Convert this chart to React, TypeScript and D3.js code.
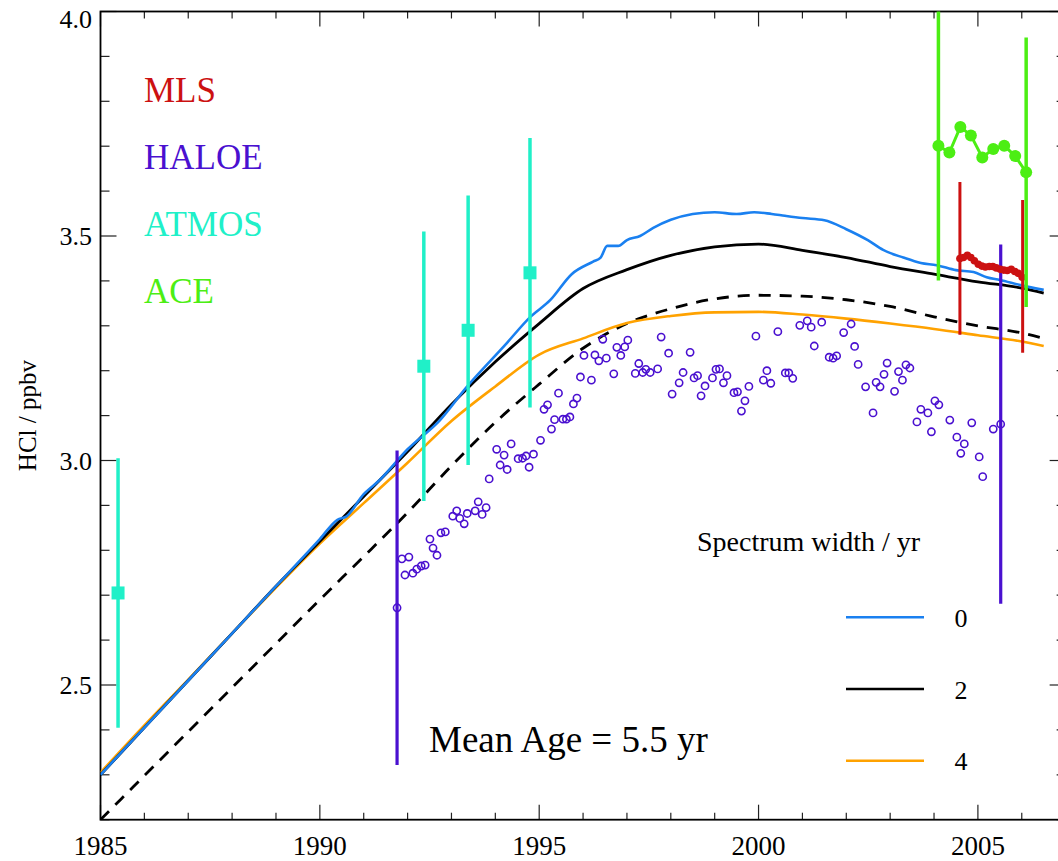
import React from 'react';
import * as d3 from 'd3';

// ---------- model curves (HCl, ppbv) ----------
const width2Years = [1985, 1986, 1987, 1988, 1989, 1990, 1991, 1992, 1993, 1994, 1995, 1996, 1997, 1998, 1999, 2000, 2001, 2002, 2003, 2004, 2005, 2006, 2006.5];
const width2Values = [2.30, 2.405, 2.51, 2.615, 2.72, 2.82, 2.92, 3.02, 3.125, 3.22, 3.305, 3.383, 3.425, 3.457, 3.476, 3.482, 3.468, 3.452, 3.432, 3.415, 3.398, 3.384, 3.373];

const width0Years = [1985, 1986, 1987, 1988, 1989, 1990, 1990.4, 1990.6, 1991, 1991.37, 1992, 1992.74, 1993.35, 1994.22, 1994.8, 1995.25, 1995.74, 1996.23, 1996.4, 1996.55, 1996.8, 1997.0, 1997.3, 1997.6, 1998.0, 1998.5, 1999.0, 1999.5, 1999.9, 2000.3, 2000.6, 2001.0, 2001.5, 2002.0, 2002.5, 2002.84, 2003.3, 2003.7, 2004.06, 2004.5, 2004.9, 2005.2, 2005.5, 2006.0, 2006.5];
const width0Values = [2.30, 2.405, 2.51, 2.615, 2.72, 2.825, 2.868, 2.875, 2.925, 2.957, 3.025, 3.09, 3.164, 3.257, 3.32, 3.357, 3.415, 3.443, 3.452, 3.478, 3.478, 3.491, 3.5, 3.518, 3.536, 3.549, 3.553, 3.549, 3.553, 3.549, 3.545, 3.54, 3.535, 3.515, 3.49, 3.469, 3.452, 3.44, 3.435, 3.424, 3.42, 3.408, 3.402, 3.39, 3.38];

const width4Years = [1985, 1986, 1987, 1988, 1989, 1990, 1991, 1992, 1993, 1994, 1995, 1996, 1997, 1998, 1999, 2000, 2001, 2002, 2003, 2004, 2005, 2006, 2006.5];
const width4Values = [2.305, 2.41, 2.512, 2.615, 2.717, 2.815, 2.905, 2.995, 3.088, 3.165, 3.236, 3.272, 3.306, 3.322, 3.33, 3.331, 3.325, 3.316, 3.305, 3.293, 3.279, 3.265, 3.255];

const dashedYears = [1985, 1986, 1987, 1988, 1989, 1990, 1991, 1992, 1993, 1994, 1995, 1996, 1997, 1998, 1999, 2000, 2001, 2002, 2003, 2004, 2005, 2006, 2006.5];
const dashedValues = [2.2, 2.298, 2.396, 2.494, 2.592, 2.69, 2.786, 2.884, 2.988, 3.085, 3.17, 3.25, 3.305, 3.338, 3.36, 3.368, 3.366, 3.358, 3.343, 3.32, 3.3, 3.284, 3.272];

// ---------- observations ----------
const haloeYears = [1991.76,1991.87,1991.94,1992.03,1992.12,1992.21,1992.31,1992.40,1992.51,1992.58,
  1992.67,1992.76,1992.86,1993.03,1993.12,1993.19,1993.29,1993.36,1993.54,1993.61,
  1993.70,1993.79,1993.86,1994.03,1994.11,1994.20,1994.27,1994.36,1994.52,1994.62,
  1994.70,1994.77,1994.87,1995.03,1995.11,1995.19,1995.28,1995.35,1995.44,1995.54,
  1995.62,1995.70,1995.78,1995.86,1995.94,1996.02,1996.19,1996.27,1996.36,1996.45,
  1996.53,1996.70,1996.77,1996.86,1996.95,1997.02,1997.19,1997.27,1997.36,1997.43,
  1997.53,1997.70,1997.78,1997.95,1998.03,1998.19,1998.28,1998.44,1998.53,1998.61,
  1998.69,1998.78,1998.95,1999.03,1999.11,1999.20,1999.28,1999.44,1999.52,1999.61,
  1999.69,1999.78,1999.94,2000.11,2000.19,2000.28,2000.44,2000.61,2000.69,2000.78,
  2000.94,2001.11,2001.20,2001.27,2001.44,2001.61,2001.70,2001.78,2001.94,2002.11,
  2002.19,2002.27,2002.44,2002.61,2002.68,2002.77,2002.86,2002.93,2003.10,2003.19,
  2003.28,2003.36,2003.45,2003.61,2003.70,2003.86,2003.94,2004.02,2004.11,2004.36,
  2004.52,2004.61,2004.69,2004.86,2005.03,2005.11,2005.35,2005.52];
const haloeValues = [2.672,2.781,2.745,2.785,2.749,2.758,2.765,2.767,2.825,2.805,
  2.789,2.839,2.841,2.876,2.888,2.871,2.859,2.882,2.888,2.908,
  2.880,2.895,2.959,3.025,2.990,3.012,2.980,3.037,3.004,3.005,
  3.010,2.985,3.014,3.045,3.114,3.124,3.070,3.091,3.150,3.092,
  3.092,3.097,3.126,3.139,3.186,3.234,3.179,3.235,3.222,3.270,
  3.228,3.193,3.252,3.234,3.253,3.268,3.194,3.216,3.196,3.203,
  3.196,3.204,3.275,3.239,3.148,3.173,3.196,3.241,3.184,3.189,
  3.144,3.166,3.184,3.203,3.204,3.173,3.189,3.151,3.153,3.110,
  3.133,3.165,3.277,3.179,3.200,3.172,3.287,3.195,3.195,3.183,
  3.301,3.311,3.297,3.255,3.308,3.230,3.228,3.233,3.285,3.304,
  3.254,3.214,3.164,3.106,3.174,3.164,3.192,3.217,3.154,3.198,
  3.179,3.213,3.206,3.086,3.114,3.106,3.064,3.133,3.124,3.090,
  3.052,3.016,3.037,3.084,3.008,2.964,3.070,3.081];
const haloeErrYears = [1991.76, 2005.52];
const haloeErrValues = [2.672, 3.081];
const haloeErrs = [0.35, 0.40];

const atmosYears = [1985.40, 1992.37, 1993.38, 1994.79];
const atmosValues = [2.705, 3.21, 3.29, 3.418];
const atmosErrs = [0.3, 0.3, 0.3, 0.3];

const mlsYears = [2004.59, 2004.67, 2004.76, 2004.84, 2004.92, 2005.01, 2005.09, 2005.17, 2005.26, 2005.34, 2005.42, 2005.51, 2005.59, 2005.67, 2005.76, 2005.84, 2005.92, 2006.01];
const mlsValues = [3.450, 3.452, 3.457, 3.452, 3.445, 3.437, 3.433, 3.431, 3.432, 3.432, 3.429, 3.426, 3.424, 3.423, 3.426, 3.421, 3.417, 3.408];
const mlsErrYears = [2004.59, 2006.02];
const mlsErrValues = [3.45, 3.41];
const mlsErrs = [0.17, 0.17];

const aceYears = [2004.10, 2004.35, 2004.60, 2004.84, 2005.10, 2005.35, 2005.60, 2005.85, 2006.10];
const aceValues = [3.701, 3.686, 3.743, 3.724, 3.675, 3.694, 3.701, 3.678, 3.642];
const aceErrYears = [2004.10, 2006.10];
const aceErrValues = [3.701, 3.642];
const aceErrs = [0.3, 0.3];

const xMajorTicks = [1985, 1990, 1995, 2000, 2005];
const yMajorTicks = [2.5, 3.0, 3.5, 4.0];
const yTickLabels = ['2.5', '3.0', '3.5', '4.0'];

const legendNames = ['MLS', 'HALOE', 'ATMOS', 'ACE'];
const widthLabels = ['0', '2', '4'];

const C = {
  mls: '#cc1111',
  haloe: '#4a10d0',
  atmos: '#20f0c8',
  ace: '#4cee14',
  blue: '#1a80f0',
  black: '#000000',
  orange: '#ffa200',
};

const FONT = "'Liberation Serif', 'Times New Roman', Times, serif";

export default function App() {
  const W = 1058, H = 861;
  const left = 100.5, top = 11.5, bottom = 819.7;
  const right = left + 22 * 43.87;
  const x = d3.scaleLinear().domain([1985, 2007]).range([left, right]);
  const y = d3.scaleLinear().domain([2.2, 4.0]).range([bottom, top]);

  const mk = (ys: number[], vs: number[], curve: any) =>
    d3.line<number>().x((_, i) => x(ys[i])).y((_, i) => y(vs[i])).curve(curve)(ys as any) as string;

  const pBlack = mk(width2Years, width2Values, d3.curveMonotoneX);
  const pBlue = mk(width0Years, width0Values, d3.curveMonotoneX);
  const pOrange = mk(width4Years, width4Values, d3.curveMonotoneX);
  const pDashed = mk(dashedYears, dashedValues, d3.curveMonotoneX);
  const pMls = mk(mlsYears, mlsValues, d3.curveLinear);
  const pAce = mk(aceYears, aceValues, d3.curveLinear);

  const xMinor = d3.range(1985, 2008, 1).filter((v) => !xMajorTicks.includes(v));
  const yMinor = d3.range(22, 41, 1).map((v) => v / 10).filter((v) => !yMajorTicks.some((m) => Math.abs(m - v) < 1e-6));

  const majX = 15, minX = 7, majY = 16, minY = 9;
  const tickColor = '#222';

  return (
    <svg width={W} height={H} style={{ position: 'absolute', left: 0, top: 0, background: '#fff' }} fontFamily={FONT}>
      <defs>
        <clipPath id="plot">
          <rect x={left} y={top} width={right - left} height={bottom - top} />
        </clipPath>
      </defs>
      <rect x={0} y={0} width={W} height={H} fill="#fff" />

      {/* ticks */}
      <g stroke={tickColor} strokeWidth={1.2}>
        {xMajorTicks.map((t) => (
          <g key={'xm' + t}>
            <line x1={x(t)} x2={x(t)} y1={bottom} y2={bottom - majX} />
            <line x1={x(t)} x2={x(t)} y1={top} y2={top + majX} />
          </g>
        ))}
        {xMinor.map((t) => (
          <g key={'xn' + t}>
            <line x1={x(t)} x2={x(t)} y1={bottom} y2={bottom - minX} />
            <line x1={x(t)} x2={x(t)} y1={top} y2={top + minX} />
          </g>
        ))}
        {yMajorTicks.map((t) => (
          <g key={'ym' + t}>
            <line x1={left} x2={left + majY} y1={y(t)} y2={y(t)} />
            <line x1={right} x2={right - majY} y1={y(t)} y2={y(t)} />
          </g>
        ))}
        {yMinor.map((t) => (
          <g key={'yn' + t}>
            <line x1={left} x2={left + minY} y1={y(t)} y2={y(t)} />
            <line x1={right} x2={right - minY} y1={y(t)} y2={y(t)} />
          </g>
        ))}
      </g>

      {/* frame */}
      <rect x={left} y={top} width={right - left} height={bottom - top} fill="none" stroke="#000" strokeWidth={1.8} />

      {/* tick labels */}
      <g fontSize={27} fill="#000" textAnchor="middle">
        {xMajorTicks.map((t) => (
          <text key={'xl' + t} x={x(t)} y={855}>{t}</text>
        ))}
      </g>
      <g fontSize={26} fill="#000" textAnchor="end">
        {yMajorTicks.map((t, i) => (
          <text key={'yl' + t} x={92} y={t === 4.0 ? y(t) + 16 : y(t) + 9}>{yTickLabels[i]}</text>
        ))}
      </g>
      <text transform={`translate(36,${(top + bottom) / 2}) rotate(-90)`} textAnchor="middle" fontSize={25} fill="#000">HCl / ppbv</text>

      {/* model curves */}
      <g clipPath="url(#plot)" fill="none" strokeLinejoin="round">
        <path d={pDashed} stroke={C.black} strokeWidth={2.8} strokeDasharray="12,9" />
        <path d={pOrange} stroke={C.orange} strokeWidth={2.6} />
        <path d={pBlack} stroke={C.black} strokeWidth={2.8} />
        <path d={pBlue} stroke={C.blue} strokeWidth={2.6} />
      </g>

      {/* observations */}
      <g clipPath="url(#plot)">
        {/* HALOE */}
        {haloeErrYears.map((t, i) => (
          <line key={'he' + i} x1={x(t)} x2={x(t)} y1={y(haloeErrValues[i] + haloeErrs[i])} y2={y(haloeErrValues[i] - haloeErrs[i])} stroke={C.haloe} strokeWidth={3.2} />
        ))}
        {haloeYears.map((t, i) => (
          <circle key={'h' + i} cx={x(t)} cy={y(haloeValues[i])} r={3.6} fill="none" stroke={C.haloe} strokeWidth={1.6} />
        ))}

        {/* ATMOS */}
        {atmosYears.map((t, i) => (
          <g key={'a' + i}>
            <line x1={x(t)} x2={x(t)} y1={y(atmosValues[i] + atmosErrs[i])} y2={y(atmosValues[i] - atmosErrs[i])} stroke={C.atmos} strokeWidth={3.5} />
            <rect x={x(t) - 6.5} y={y(atmosValues[i]) - 6.5} width={13} height={13} fill={C.atmos} />
          </g>
        ))}

        {/* MLS */}
        {mlsErrYears.map((t, i) => (
          <line key={'me' + i} x1={x(t)} x2={x(t)} y1={y(mlsErrValues[i] + mlsErrs[i])} y2={y(mlsErrValues[i] - mlsErrs[i])} stroke={C.mls} strokeWidth={3} />
        ))}
        <path d={pMls} fill="none" stroke={C.mls} strokeWidth={5} />
        {mlsYears.map((t, i) => (
          <circle key={'m' + i} cx={x(t)} cy={y(mlsValues[i])} r={3.8} fill={C.mls} />
        ))}

        {/* ACE */}
        {aceErrYears.map((t, i) => (
          <line key={'ce' + i} x1={x(t)} x2={x(t)} y1={y(aceErrValues[i] + aceErrs[i])} y2={y(aceErrValues[i] - aceErrs[i])} stroke={C.ace} strokeWidth={3.5} />
        ))}
        <path d={pAce} fill="none" stroke={C.ace} strokeWidth={3} />
        {aceYears.map((t, i) => (
          <circle key={'c' + i} cx={x(t)} cy={y(aceValues[i])} r={6} fill={C.ace} />
        ))}
      </g>

      {/* instrument legend */}
      <g fontSize={35}>
        {legendNames.map((n, i) => (
          <text key={n} x={144} y={102 + i * 67} fill={[C.mls, C.haloe, C.atmos, C.ace][i]}>{n}</text>
        ))}
      </g>

      {/* spectrum width legend */}
      <text x={697} y={551} fontSize={28} fill="#000">Spectrum width / yr</text>
      {[C.blue, C.black, C.orange].map((c, i) => (
        <g key={'lg' + i}>
          <line x1={846} x2={924} y1={617.3 + i * 71.7} y2={617.3 + i * 71.7} stroke={c} strokeWidth={2.6} />
          <text x={961} y={627 + i * 71.5} fontSize={26} textAnchor="middle" fill="#000">{widthLabels[i]}</text>
        </g>
      ))}

      <text x={429} y={752} fontSize={37} fill="#000">Mean Age = 5.5 yr</text>
    </svg>
  );
}
